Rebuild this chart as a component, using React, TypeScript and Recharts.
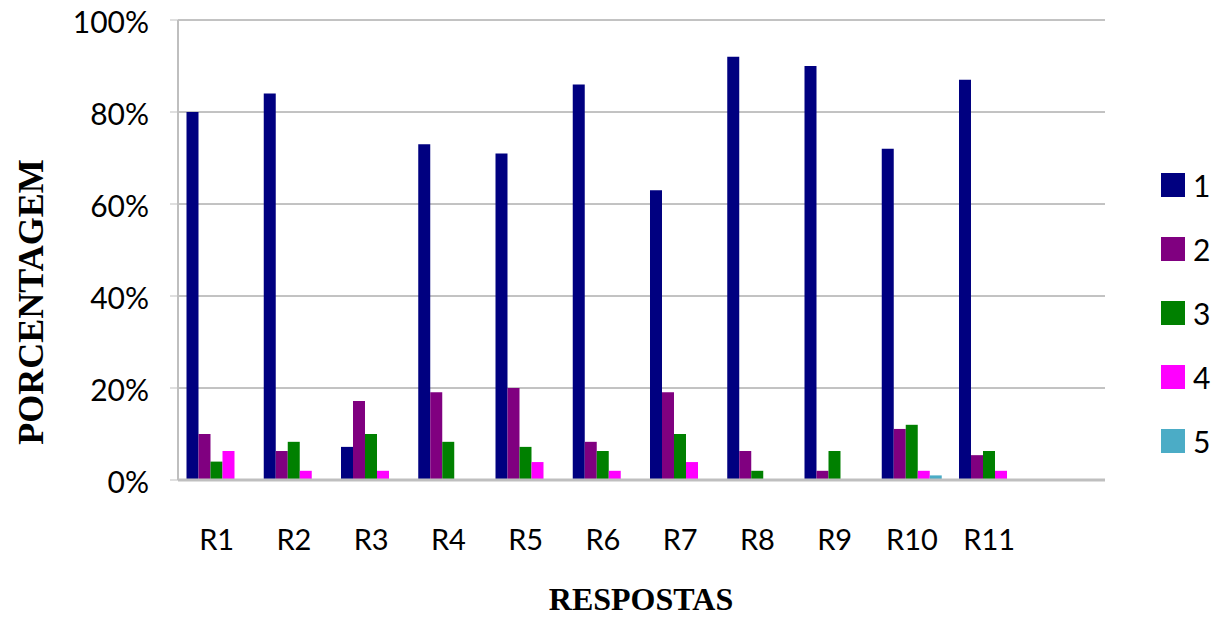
import { Bar, BarChart, CartesianGrid, Label, XAxis, YAxis } from 'recharts'

// categories (last slot is empty, as in the original sheet)
const categories = ['R1', 'R2', 'R3', 'R4', 'R5', 'R6', 'R7', 'R8', 'R9', 'R10', 'R11', '']

// percentages per answer option
const s1 = [80, 84, 7.2, 73, 71, 86, 63, 92, 90, 72, 87, null]
const s2 = [10, 6.3, 17.2, 19.1, 20, 8.3, 19.1, 6.3, 2, 11.1, 5.4, null]
const s3 = [4, 8.3, 10, 8.3, 7.2, 6.3, 10, 2, 6.3, 12, 6.3, null]
const s4 = [6.3, 2, 2, null, 3.9, 2, 3.9, null, null, 2, 2, null]
const s5 = [null, null, null, null, null, null, null, null, null, 1, null, null]

const yTicks = [0, 20, 40, 60, 80, 100]

const seriesNames = ['1', '2', '3', '4', '5']
const seriesColors = ['#000080', '#800080', '#008000', '#FF00FF', '#4BACC6']

const data = categories.map((name, i) => ({
  name,
  s1: s1[i],
  s2: s2[i],
  s3: s3[i],
  s4: s4[i],
  s5: s5[i],
}))

const FONT = 'Lato, "Liberation Sans", sans-serif'
const TITLE_FONT = '"Liberation Serif", "Times New Roman", serif'

const XTick = (props: any) => {
  const { x, y, payload } = props
  return (
    <text x={x} y={y} dy={70} textAnchor='middle' fill='#000' fontSize={29} fontFamily={FONT}>
      {payload.value}
    </text>
  )
}

const YTick = (props: any) => {
  const { x, y, payload } = props
  return (
    <text x={x} y={y} dy={13} textAnchor='end' fill='#000' fontSize={30} fontFamily={FONT}>
      {payload.value}%
    </text>
  )
}

const App = () => {
  return (
    <div style={{ position: 'absolute', left: 0, top: 0, width: 1224, height: 623, background: '#fff' }}>
      <BarChart
        width={1224}
        height={623}
        data={data}
        margin={{ top: 20, right: 119, bottom: 113, left: 8 }}
        barCategoryGap='11%'
        barGap={0}
      >
        <CartesianGrid vertical={false} stroke='#868686' strokeWidth={1} />
        <XAxis
          dataKey='name'
          height={30}
          tickLine={false}
          tickSize={0}
          tickMargin={0}
          axisLine={{ stroke: '#bfbfbf', strokeWidth: 3 }}
          tick={<XTick />}
          interval={0}
        >
          <Label
            content={() => (
              <text x={641} y={610} textAnchor='middle' fontSize={32} fontWeight='bold' fontFamily={TITLE_FONT} fill='#000'>
                RESPOSTAS
              </text>
            )}
          />
        </XAxis>
        <YAxis
          width={170}
          domain={[0, 100]}
          ticks={yTicks}
          tickSize={8}
          tickMargin={21}
          tickLine={{ stroke: '#bfbfbf' }}
          axisLine={{ stroke: '#bfbfbf', strokeWidth: 2 }}
          tick={<YTick />}
        >
          <Label
            content={() => (
              <text
                transform='translate(43,302) rotate(-90)'
                textAnchor='middle'
                fontSize={36}
                fontWeight='bold'
                fontFamily={TITLE_FONT}
                fill='#000'
              >
                PORCENTAGEM
              </text>
            )}
          />
        </YAxis>
        <Bar dataKey='s1' name={seriesNames[0]} fill={seriesColors[0]} isAnimationActive={false} />
        <Bar dataKey='s2' name={seriesNames[1]} fill={seriesColors[1]} isAnimationActive={false} />
        <Bar dataKey='s3' name={seriesNames[2]} fill={seriesColors[2]} isAnimationActive={false} />
        <Bar dataKey='s4' name={seriesNames[3]} fill={seriesColors[3]} isAnimationActive={false} />
        <Bar dataKey='s5' name={seriesNames[4]} fill={seriesColors[4]} isAnimationActive={false} />
      </BarChart>
      <div style={{ position: 'absolute', left: 1161, top: 153, fontFamily: FONT, fontSize: 30 }}>
        {seriesNames.map((n, i) => (
          <div key={n} style={{ height: 64, display: 'flex', alignItems: 'center' }}>
            <span style={{ width: 24, height: 24, background: seriesColors[i], display: 'inline-block', marginRight: 8 }} />
            <span>{n}</span>
          </div>
        ))}
      </div>
    </div>
  )
}

export default App
